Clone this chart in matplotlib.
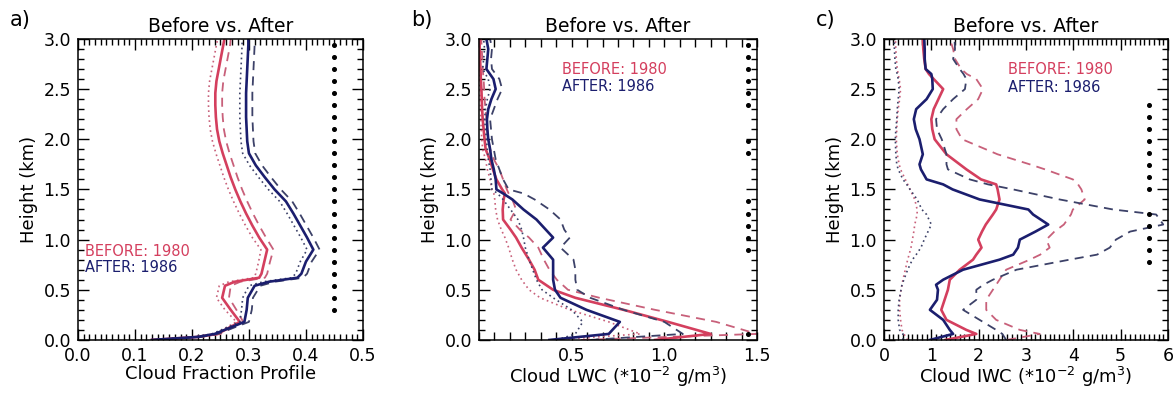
import numpy as np
import matplotlib
matplotlib.use("Agg")
import matplotlib.pyplot as plt
from matplotlib.ticker import MultipleLocator, FixedLocator

plt.rcParams['font.family'] = ['DejaVu Sans']

RED = '#d43f5e'
RED_LIGHT = '#c8607a'
BLUE = '#1b1e6e'
BLUE_LIGHT = '#3c4168'

# ---- a) cloud fraction ----
h_a = [0.0, 0.03, 0.06, 0.18, 0.30, 0.42, 0.54, 0.58, 0.62, 0.66, 0.78, 0.90, 1.02, 1.14, 1.26,
       1.38, 1.50, 1.62, 1.74, 1.86, 1.98, 2.10, 2.22, 2.34, 2.46, 2.58, 2.70, 2.82, 2.94, 3.0]
before_a = [0.130, 0.210, 0.245, 0.284, 0.268, 0.253, 0.258, 0.275, 0.318, 0.322, 0.327, 0.332, 0.318, 0.306, 0.295,
            0.285, 0.276, 0.268, 0.261, 0.254, 0.248, 0.244, 0.242, 0.241, 0.241, 0.243, 0.247, 0.251, 0.255, 0.257]
before_a_hi = [0.130, 0.215, 0.250, 0.290, 0.278, 0.265, 0.268, 0.285, 0.328, 0.332, 0.337, 0.343, 0.330, 0.318, 0.307,
               0.297, 0.288, 0.280, 0.273, 0.266, 0.260, 0.256, 0.254, 0.253, 0.253, 0.255, 0.259, 0.263, 0.267, 0.268]
before_a_lo = [0.130, 0.205, 0.240, 0.278, 0.258, 0.243, 0.248, 0.265, 0.308, 0.312, 0.317, 0.321, 0.306, 0.294, 0.283,
               0.273, 0.264, 0.256, 0.249, 0.242, 0.236, 0.232, 0.230, 0.229, 0.229, 0.231, 0.235, 0.239, 0.243, 0.245]
after_a = [0.130, 0.210, 0.240, 0.292, 0.296, 0.298, 0.310, 0.335, 0.385, 0.392, 0.400, 0.413, 0.402, 0.390, 0.378,
           0.365, 0.345, 0.328, 0.312, 0.300, 0.297, 0.296, 0.295, 0.295, 0.295, 0.296, 0.297, 0.298, 0.299, 0.299]
after_a_hi = [0.130, 0.215, 0.245, 0.300, 0.305, 0.307, 0.320, 0.345, 0.395, 0.402, 0.410, 0.424, 0.413, 0.401, 0.389,
              0.376, 0.356, 0.339, 0.323, 0.311, 0.308, 0.307, 0.306, 0.306, 0.306, 0.307, 0.308, 0.309, 0.310, 0.310]
after_a_lo = [0.130, 0.205, 0.235, 0.284, 0.287, 0.289, 0.300, 0.325, 0.375, 0.382, 0.390, 0.402, 0.391, 0.379, 0.367,
              0.354, 0.334, 0.317, 0.301, 0.289, 0.286, 0.285, 0.284, 0.284, 0.284, 0.285, 0.286, 0.287, 0.288, 0.288]
sig_a = [0.30, 0.42, 0.54, 0.66, 0.78, 0.90, 1.02, 1.14, 1.26, 1.38, 1.50, 1.62, 1.74, 1.86, 1.98,
         2.10, 2.22, 2.34, 2.46, 2.58, 2.70, 2.82, 2.94]

# ---- b) cloud liquid water ----
h_b = [0.0, 0.06, 0.18, 0.30, 0.42, 0.50, 0.60, 0.70, 0.80, 0.92, 1.02, 1.10, 1.20, 1.30, 1.40, 1.46,
       1.50, 1.60, 1.70, 1.80, 1.90, 2.00, 2.10, 2.20, 2.30, 2.40, 2.50, 2.60, 2.70, 2.80, 2.90, 3.00]
before_b = [0.95, 1.25, 1.02, 0.78, 0.52, 0.40, 0.32, 0.30, 0.27, 0.23, 0.20, 0.17, 0.13, 0.128, 0.133, 0.14,
            0.125, 0.094, 0.075, 0.058, 0.036, 0.030, 0.025, 0.020, 0.017, 0.015, 0.013, 0.010, 0.008, 0.006, 0.004, 0.003]
before_b_hi = [0.55, 1.50, 1.28, 0.95, 0.65, 0.48, 0.42, 0.38, 0.35, 0.32, 0.27, 0.22, 0.17, 0.20, 0.18, 0.16,
               0.15, 0.13, 0.11, 0.08, 0.06, 0.05, 0.045, 0.04, 0.035, 0.03, 0.028, 0.025, 0.02, 0.018, 0.015, 0.012]
before_b_lo = [0.40, 0.87, 0.70, 0.49, 0.33, 0.27, 0.23, 0.20, 0.18, 0.16, 0.14, 0.12, 0.10, 0.09, 0.085, 0.08,
               0.07, 0.06, 0.045, 0.035, 0.02, 0.015, 0.012, 0.01, 0.008, 0.006, 0.005, 0.004, 0.003, 0.002, 0.002, 0.001]
after_b = [0.38, 0.70, 0.76, 0.58, 0.44, 0.41, 0.40, 0.40, 0.40, 0.345, 0.40, 0.36, 0.31, 0.24, 0.18, 0.13,
           0.094, 0.09, 0.08, 0.067, 0.06, 0.05, 0.045, 0.043, 0.05, 0.067, 0.09, 0.078, 0.04, 0.045, 0.05, 0.04]
after_b_hi = [0.60, 1.10, 1.00, 0.78, 0.60, 0.53, 0.52, 0.52, 0.51, 0.44, 0.49, 0.46, 0.44, 0.38, 0.30, 0.24,
              0.16, 0.13, 0.11, 0.09, 0.08, 0.07, 0.065, 0.06, 0.08, 0.10, 0.125, 0.11, 0.07, 0.065, 0.07, 0.06]
after_b_lo = [0.42, 0.52, 0.56, 0.50, 0.40, 0.34, 0.31, 0.29, 0.27, 0.25, 0.24, 0.23, 0.21, 0.17, 0.13, 0.10,
              0.07, 0.065, 0.06, 0.05, 0.045, 0.04, 0.035, 0.03, 0.035, 0.045, 0.06, 0.05, 0.02, 0.025, 0.03, 0.025]
sig_b = [0.06, 0.90, 1.02, 1.14, 1.26, 1.38, 1.86, 1.98, 2.34, 2.46, 2.58, 2.70, 2.82, 2.94]

# ---- c) cloud ice water ----
h_c = [0.0, 0.06, 0.10, 0.20, 0.30, 0.40, 0.50, 0.55, 0.60, 0.70, 0.80, 0.85, 0.92, 1.00, 1.08, 1.15, 1.25,
       1.30, 1.40, 1.50, 1.55, 1.60, 1.70, 1.75, 1.85, 2.00, 2.10, 2.20, 2.30, 2.40, 2.50, 2.60, 2.65,
       2.70, 2.80, 2.90, 3.00]
before_c = [1.30, 1.95, 1.74, 1.32, 1.21, 1.28, 1.35, 1.37, 1.39, 1.60, 1.88, 1.95, 2.06, 1.99, 2.07, 2.15, 2.30,
            2.37, 2.44, 2.40, 2.37, 2.05, 1.74, 1.60, 1.32, 1.07, 1.02, 1.00, 1.05, 1.15, 1.25, 1.05, 0.95,
            0.88, 0.85, 0.83, 0.82]
before_c_hi = [2.60, 3.29, 2.87, 2.37, 2.16, 2.16, 2.30, 2.37, 2.44, 2.58, 3.08, 3.30, 3.50, 3.43, 3.60, 3.80, 3.95,
               3.99, 4.24, 4.17, 4.10, 3.99, 3.40, 3.08, 2.40, 1.65, 1.53, 1.53, 1.75, 1.99, 2.09, 1.95, 1.75,
               1.63, 1.50, 1.46, 1.39]
before_c_lo = [0.50, 0.42, 0.38, 0.35, 0.33, 0.33, 0.36, 0.38, 0.40, 0.45, 0.50, 0.53, 0.57, 0.60, 0.63, 0.65, 0.70,
               0.70, 0.65, 0.55, 0.50, 0.45, 0.35, 0.32, 0.28, 0.26, 0.27, 0.28, 0.30, 0.33, 0.35, 0.32, 0.30,
               0.28, 0.26, 0.25, 0.24]
after_c = [0.97, 1.46, 1.39, 1.25, 0.97, 1.12, 1.14, 1.10, 1.25, 1.67, 2.44, 2.73, 2.83, 2.87, 3.20, 3.47, 3.15,
           3.05, 2.02, 1.45, 1.25, 0.90, 0.78, 0.75, 0.82, 0.75, 0.67, 0.63, 0.68, 0.90, 1.03, 1.02, 1.00,
           0.88, 0.86, 0.86, 0.85]
after_c_hi = [2.58, 2.50, 2.37, 2.02, 1.67, 1.95, 1.95, 2.10, 2.30, 2.80, 3.92, 4.50, 4.77, 4.90, 5.20, 5.90, 5.75,
              4.84, 3.71, 2.73, 2.20, 1.81, 1.35, 1.32, 1.32, 1.22, 1.12, 1.10, 1.25, 1.46, 1.71, 1.74, 1.68,
              1.60, 1.46, 1.50, 1.49]
after_c_lo = [0.40, 0.40, 0.33, 0.30, 0.30, 0.32, 0.36, 0.38, 0.42, 0.50, 0.60, 0.68, 0.78, 0.85, 0.93, 1.00, 0.90,
              0.80, 0.70, 0.55, 0.48, 0.40, 0.30, 0.27, 0.25, 0.24, 0.25, 0.27, 0.28, 0.30, 0.32, 0.30, 0.28,
              0.25, 0.23, 0.22, 0.22]
sig_c = [0.78, 0.90, 1.02, 1.14, 1.26, 1.50, 1.62, 1.74, 1.86, 1.98, 2.10, 2.22, 2.34]

fig = plt.figure(figsize=(11.76, 3.93), dpi=100)
boxes = [[0.0663, 0.135, 0.2423, 0.766],
         [0.4073, 0.135, 0.2364, 0.766],
         [0.7517, 0.135, 0.2415, 0.766]]


def profile(ax, h, mean, hi, lo, color, light, lw=1.9):
    ax.plot(lo, h, ls=(0, (1, 2)), color=light, lw=1.2)
    ax.plot(hi, h, ls=(0, (5, 3.5)), color=light, lw=1.3)
    ax.plot(mean, h, '-', color=color, lw=lw)


def style(ax, xlim, xmajor, xminor, xlabel, panel):
    ax.set_xlim(*xlim)
    ax.set_ylim(0, 3.0)
    ax.xaxis.set_major_locator(xmajor)
    ax.xaxis.set_minor_locator(MultipleLocator(xminor))
    ax.yaxis.set_major_locator(MultipleLocator(0.5))
    ax.yaxis.set_minor_locator(MultipleLocator(0.1))
    ax.yaxis.set_major_formatter(plt.FormatStrFormatter('%.1f'))
    ax.tick_params(which='both', direction='in', top=True, right=True, labelsize=12.5, width=1.0)
    ax.tick_params(which='major', length=8)
    ax.tick_params(which='minor', length=4)
    ax.tick_params(axis='x', which='major', pad=5)
    ax.tick_params(axis='y', which='major', pad=5)
    for s in ax.spines.values():
        s.set_linewidth(1.1)
    ax.set_xlabel(xlabel, fontsize=13, labelpad=0)
    ax.set_ylabel('Height (km)', fontsize=13, labelpad=4)
    ax.set_title('Before vs. After', fontsize=13.5, pad=5)
    fig.text(ax.get_position().x0 - 0.058, 0.935, panel, fontsize=15)


# a)
ax = fig.add_axes(boxes[0])
profile(ax, h_a, before_a, before_a_hi, before_a_lo, RED, RED_LIGHT)
profile(ax, h_a, after_a, after_a_hi, after_a_lo, BLUE, BLUE_LIGHT)
ax.plot([0.45] * len(sig_a), sig_a, 'o', color='black', ms=2.6, ls='none')
ax.text(0.013, 0.88, 'BEFORE: 1980', color=RED, fontsize=10.5, va='center')
ax.text(0.013, 0.72, 'AFTER: 1986', color=BLUE, fontsize=10.5, va='center')
style(ax, (0, 0.5), MultipleLocator(0.1), 0.01, 'Cloud Fraction Profile', 'a)')
ax.xaxis.set_major_formatter(plt.FormatStrFormatter('%.1f'))

# b)
ax = fig.add_axes(boxes[1])
profile(ax, h_b, before_b, before_b_hi, before_b_lo, RED, RED_LIGHT)
profile(ax, h_b, after_b, after_b_hi, after_b_lo, BLUE, BLUE_LIGHT)
ax.plot([1.45] * len(sig_b), sig_b, 'o', color='black', ms=2.6, ls='none')
ax.text(0.45, 2.70, 'BEFORE: 1980', color=RED, fontsize=10.5, va='center')
ax.text(0.45, 2.53, 'AFTER: 1986', color=BLUE, fontsize=10.5, va='center')
style(ax, (0, 1.5), FixedLocator([0.5, 1.0, 1.5]), 0.5 / 6,
      r'Cloud LWC (*10$^{-2}$ g/m$^3$)', 'b)')
ax.xaxis.set_major_formatter(plt.FormatStrFormatter('%.1f'))
ax.tick_params(axis='x', which='both', length=6)

# c)
ax = fig.add_axes(boxes[2])
profile(ax, h_c, before_c, before_c_hi, before_c_lo, RED, RED_LIGHT)
profile(ax, h_c, after_c, after_c_hi, after_c_lo, BLUE, BLUE_LIGHT)
ax.plot([5.6] * len(sig_c), sig_c, 'o', color='black', ms=2.6, ls='none')
ax.text(2.62, 2.70, 'BEFORE: 1980', color=RED, fontsize=10.5, va='center')
ax.text(2.62, 2.52, 'AFTER: 1986', color=BLUE, fontsize=10.5, va='center')
style(ax, (0, 6), MultipleLocator(1), 0.1, r'Cloud IWC (*10$^{-2}$ g/m$^3$)', 'c)')

fig.savefig('out.png', dpi=100)
